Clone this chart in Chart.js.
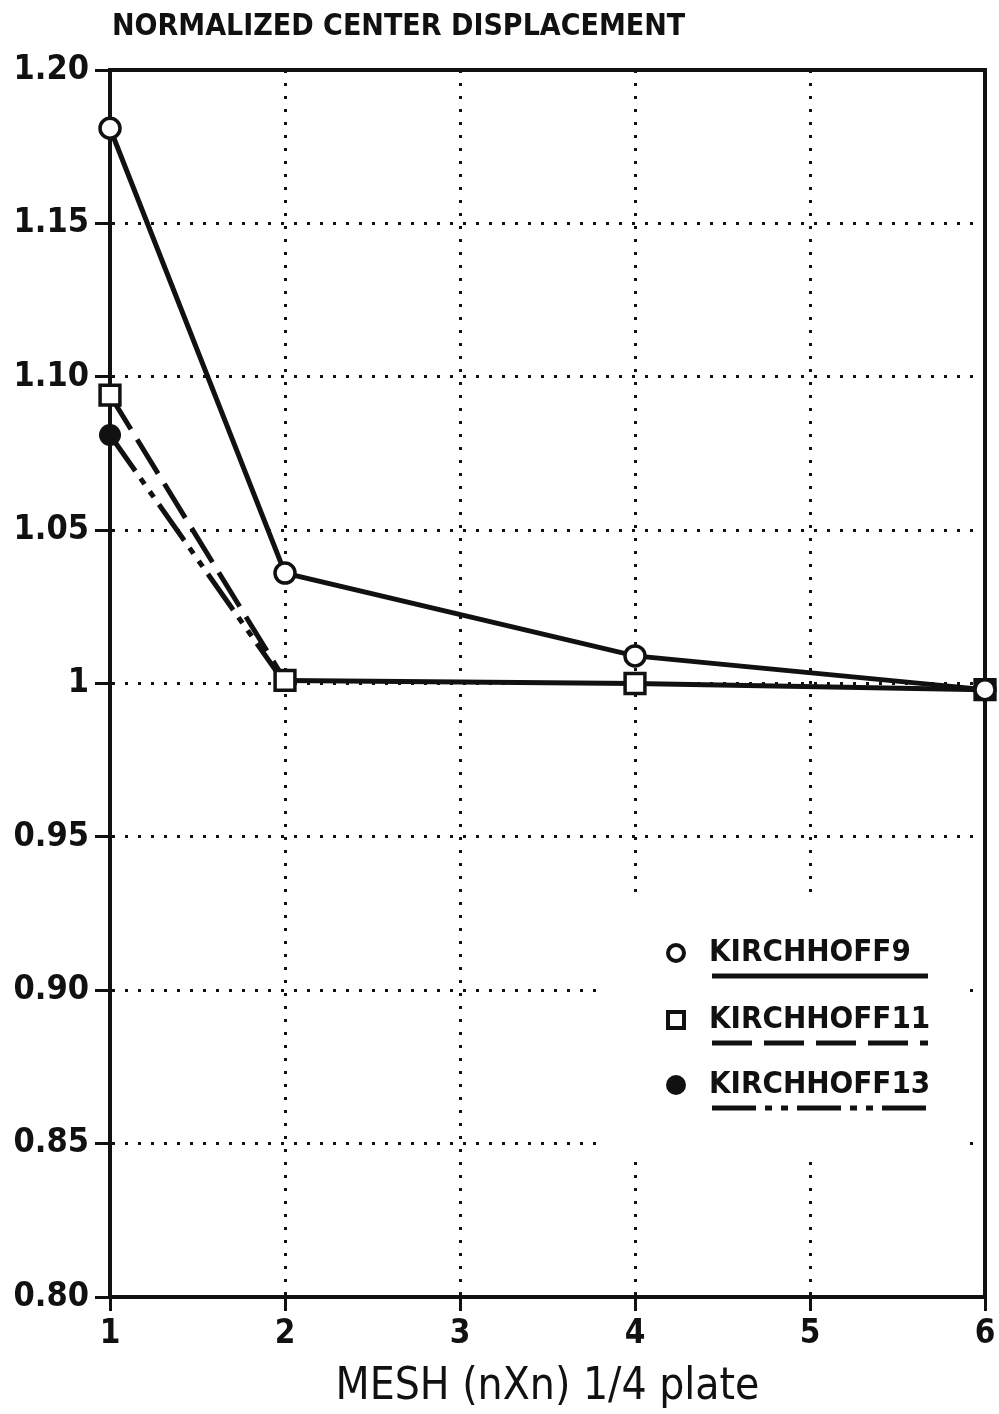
<!DOCTYPE html>
<html>
<head>
<meta charset="utf-8">
<script src="https://cdn.jsdelivr.net/npm/chart.js@4/dist/chart.umd.min.js"></script>
<style>
  html, body { margin: 0; padding: 0; background: #fff; }
  #wrap { width: 999px; height: 1414px; }
</style>
</head>
<body>
<div id="wrap"><canvas id="draw" width="999" height="1414"></canvas></div>
<script>
const FONT = "'DejaVu Sans Condensed', 'Liberation Sans Narrow', 'DejaVu Sans', sans-serif";
const INK = "#111";

// data
const meshSizes = [1, 2, 4, 6];
const kirchhoff9 = [1.181, 1.036, 1.009, 0.998];
const kirchhoff11 = [1.094, 1.001, 1.000, 0.998];
const kirchhoff13 = [1.081, 1.000, null, null];
const seriesNames = ["KIRCHHOFF9", "KIRCHHOFF11", "KIRCHHOFF13"];
const yTickLabels = ["0.80", "0.85", "0.90", "0.95", "1", "1.05", "1.10", "1.15", "1.20"];
const xTickLabels = ["1", "2", "3", "4", "5", "6"];

const dash11 = [40, 12];
const dash13 = [44, 9, 7, 9, 7, 9];

function toPoints(vals) {
	return meshSizes.map((x, i) => ({ x: x, y: vals[i] }));
}

// title in the top left, legend box inside the plot, top/right frame
const paperPlugin = {
	id: "paper",
	beforeDatasetsDraw(chart) {
		const { ctx, chartArea: a } = chart;
		ctx.save();
		ctx.strokeStyle = INK;
		ctx.lineWidth = 4;
		ctx.beginPath();
		ctx.moveTo(a.left, a.top);
		ctx.lineTo(a.right, a.top);
		ctx.lineTo(a.right, a.bottom);
		ctx.stroke();
		ctx.restore();
	},
	afterDraw(chart) {
		const ctx = chart.ctx;
		ctx.save();
		ctx.fillStyle = INK;
		ctx.font = "bold 30px " + FONT;
		ctx.textBaseline = "middle";
		ctx.fillText("NORMALIZED CENTER DISPLACEMENT", 112, 27);

		// legend: blank out the grid behind it
		ctx.fillStyle = "#fff";
		ctx.fillRect(598, 896, 366, 262);

		const rows = [953, 1020, 1085];
		const dashes = [[], dash11, dash13];
		rows.forEach((y, i) => {
			ctx.strokeStyle = INK;
			ctx.fillStyle = INK;
			ctx.lineWidth = 4;
			ctx.setLineDash([]);
			ctx.beginPath();
			if (i === 0) {
				ctx.arc(676, y, 8, 0, Math.PI * 2);
				ctx.stroke();
			} else if (i === 1) {
				ctx.strokeRect(668, y - 8, 16, 16);
			} else {
				ctx.arc(676, y, 10, 0, Math.PI * 2);
				ctx.fill();
			}
			ctx.font = "bold 31px " + FONT;
			ctx.textBaseline = "middle";
			ctx.fillText(seriesNames[i], 709, y);
			ctx.lineWidth = 5;
			ctx.setLineDash(dashes[i]);
			ctx.beginPath();
			ctx.moveTo(712, y + 23);
			ctx.lineTo(928, y + 23);
			ctx.stroke();
		});
		ctx.restore();
	},
};

const config = {
	type: "line",
	data: {
		datasets: [
			{
				label: seriesNames[0],
				data: toPoints(kirchhoff9),
				borderColor: INK,
				borderWidth: 5,
				pointStyle: "circle",
				pointRadius: 10,
				pointBorderWidth: 3.5,
				pointBackgroundColor: "#fff",
				pointBorderColor: INK,
				clip: false,
				order: 1,
			},
			{
				label: seriesNames[1],
				data: toPoints(kirchhoff11),
				borderColor: INK,
				borderWidth: 5,
				segment: {
					borderDash: (c) => (c.p0DataIndex === 0 ? dash11 : undefined),
				},
				pointStyle: "rect",
				pointRadius: 14,
				pointBorderWidth: 3.5,
				pointBackgroundColor: "#fff",
				pointBorderColor: INK,
				clip: false,
				order: 2,
			},
			{
				label: seriesNames[2],
				data: toPoints(kirchhoff13),
				borderColor: INK,
				borderWidth: 5,
				borderDash: dash13,
				pointStyle: "circle",
				pointRadius: [11, 0, 0, 0],
				pointBorderWidth: 0,
				pointBackgroundColor: INK,
				pointBorderColor: INK,
				clip: false,
				order: 3,
			},
		],
	},
	options: {
		responsive: false,
		animation: false,
		layout: { autoPadding: false, padding: { left: 0, right: 14, top: 70, bottom: 0 } },
		plugins: {
			legend: { display: false },
			title: { display: false },
			tooltip: { enabled: false },
		},
		scales: {
			x: {
				type: "linear",
				min: 1,
				max: 6,
				afterFit: (s) => {
					s.height = 117;
					s.paddingLeft = 0;
					s.paddingRight = 0;
				},
				ticks: {
					stepSize: 1,
					color: INK,
					font: { family: FONT, size: 33, weight: "bold" },
					padding: 4,
					callback: (v, i) => xTickLabels[i],
				},
				grid: {
					color: INK,
					lineWidth: 3,
					tickLength: 14,
					tickWidth: 3,
					tickColor: INK,
					tickBorderDash: [],
				},
				border: { display: true, width: 4, color: INK, dash: [3, 10] },
				title: {
					display: true,
					text: "MESH (nXn) 1/4 plate",
					color: INK,
					font: { family: FONT, size: 44 },
					padding: { top: 0, bottom: 0 },
				},
			},
			y: {
				min: 0.8,
				max: 1.2,
				afterFit: (s) => { s.width = 110; },
				ticks: {
					stepSize: 0.05,
					color: INK,
					font: { family: FONT, size: 34, weight: "bold" },
					padding: 6,
					callback: (v, i) => yTickLabels[i],
				},
				grid: {
					color: INK,
					lineWidth: 3,
					tickLength: 15,
					tickWidth: 3,
					tickColor: INK,
					tickBorderDash: [],
				},
				border: { display: true, width: 4, color: INK, dash: [3, 10] },
			},
		},
	},
	plugins: [paperPlugin],
};

const myChart = new Chart(document.getElementById("draw").getContext("2d"), config);
</script>
</body>
</html>
